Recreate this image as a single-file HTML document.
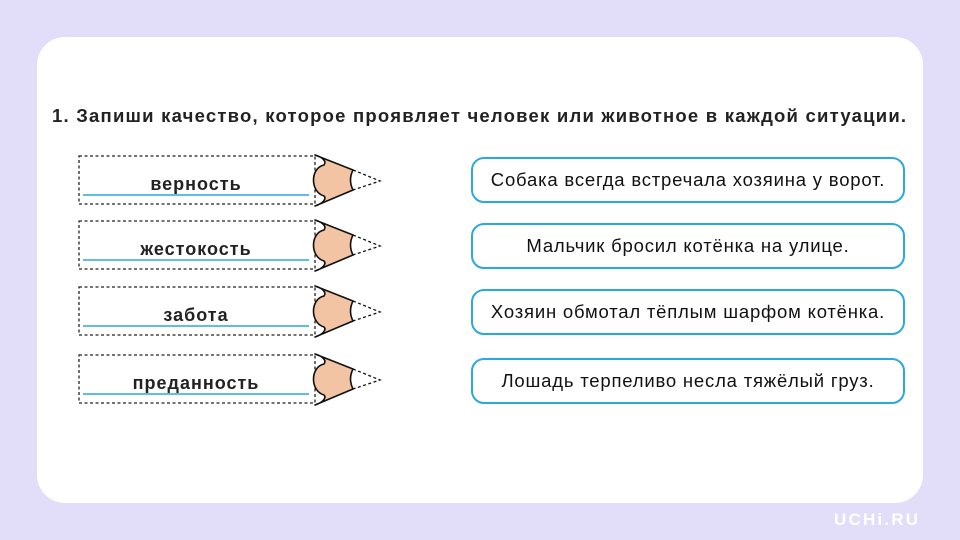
<!DOCTYPE html>
<html><head><meta charset="utf-8"><style>
body{margin:0;width:960px;height:540px;background:#e2def9;font-family:"Liberation Sans","DejaVu Sans",sans-serif;position:relative;overflow:hidden}
.card{position:absolute;left:37px;top:37px;width:886px;height:466px;background:#fff;border-radius:28px}
.title{position:absolute;left:52px;top:105px;font-size:18.5px;letter-spacing:1.22px;font-weight:bold;color:#222;white-space:nowrap}
.box{position:absolute;left:471px;width:430px;height:42px;border:2px solid #2aa9e0;border-radius:13px;box-sizing:content-box;text-align:center;line-height:42px;font-size:18.5px;letter-spacing:0.8px;color:#111;white-space:nowrap}
.word{position:absolute;left:83px;width:226px;text-align:center;font-weight:bold;font-size:18px;letter-spacing:1px;color:#222}
.logo{position:absolute;left:834px;top:510px;color:#fff;font-weight:bold;font-size:17px;letter-spacing:2.2px}
</style></head><body>
<div class="card"></div>
<div class="title">1. Запиши качество, которое проявляет человек или животное в каждой ситуации.</div>
<svg width="960" height="540" style="position:absolute;left:0;top:0">
<defs>
<g id="p">
<rect x="79" y="0" width="236" height="48" fill="none" stroke="#222" stroke-width="1.3" stroke-dasharray="3,2.5"/>
<line x1="83" y1="39" x2="309" y2="39" stroke="#2aa9e0" stroke-width="1.5"/>
<path d="M315,-1 L353,14 Q348,24 353,34 L315,50 C322,48 327,43 324,40 C310,36 310,12 324,9 C327,5 322,1 315,-1 Z" fill="#f2c4a4" stroke="#111" stroke-width="1.6" stroke-linejoin="round"/>
<path d="M353,14 L380,25 L353,34" fill="none" stroke="#111" stroke-width="1.3" stroke-dasharray="3,2.5"/>
</g>
</defs>
<use href="#p" transform="translate(0,156)"/>
<use href="#p" transform="translate(0,221)"/>
<use href="#p" transform="translate(0,287)"/>
<use href="#p" transform="translate(0,355)"/>
</svg>
<div class="word" style="top:174px">верность</div>
<div class="word" style="top:239px">жестокость</div>
<div class="word" style="top:305px">забота</div>
<div class="word" style="top:373px">преданность</div>
<div class="box" style="top:157px">Собака всегда встречала хозяина у ворот.</div>
<div class="box" style="top:223px">Мальчик бросил котёнка на улице.</div>
<div class="box" style="top:289px">Хозяин обмотал тёплым шарфом котёнка.</div>
<div class="box" style="top:358px">Лошадь терпеливо несла тяжёлый груз.</div>
<div class="logo">UCHi.RU</div>
</body></html>
